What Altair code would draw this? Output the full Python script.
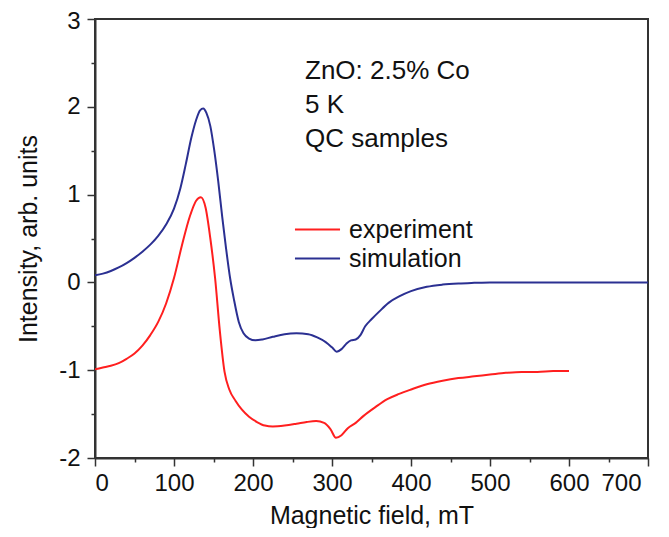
import altair as alt
import pandas as pd

# experiment (red)
exp_x = [0, 10, 20, 30, 40, 50, 60, 70, 80, 90, 100, 110, 120, 128, 134, 140, 146, 152, 158, 164,
         170, 178, 186, 195, 205, 215, 225, 240, 255, 268, 280, 290, 298, 305, 312, 320, 330, 340,
         355, 370, 385, 400, 420, 440, 460, 480, 500, 520, 540, 560, 580, 600]
exp_y = [-0.99, -0.97, -0.95, -0.92, -0.87, -0.81, -0.72, -0.6, -0.45, -0.24, 0.05, 0.42, 0.75, 0.93, 0.97,
         0.85, 0.5, 0.05, -0.55, -1.02, -1.22, -1.35, -1.45, -1.53, -1.59, -1.63, -1.64, -1.63, -1.61,
         -1.59, -1.58, -1.6, -1.67, -1.77, -1.74, -1.66, -1.6, -1.52, -1.42, -1.33, -1.27, -1.22, -1.16,
         -1.12, -1.09, -1.07, -1.05, -1.03, -1.02, -1.02, -1.01, -1.01]

# simulation (blue)
sim_x = [0, 10, 20, 30, 40, 50, 60, 70, 80, 90, 100, 108, 115, 122, 128, 133, 137, 141, 146, 151, 156,
         161, 166, 171, 176, 182, 188, 195, 203, 212, 225, 240, 255, 270, 282, 292, 300, 306, 312, 318,
         324, 330, 336, 342, 350, 360, 372, 385, 400, 420, 440, 460, 480, 500, 550, 600, 650, 700]
sim_y = [0.08, 0.1, 0.13, 0.17, 0.22, 0.28, 0.35, 0.43, 0.53, 0.66, 0.84, 1.07, 1.35, 1.65, 1.85, 1.96,
         1.98, 1.93, 1.78, 1.5, 1.15, 0.75, 0.38, 0.05, -0.2, -0.45, -0.58, -0.64, -0.66, -0.65, -0.62,
         -0.59, -0.58, -0.59, -0.63, -0.68, -0.74, -0.79, -0.76, -0.7, -0.66, -0.65, -0.6, -0.5, -0.42,
         -0.33, -0.23, -0.16, -0.1, -0.05, -0.025, -0.012, -0.005, 0.0, 0.0, 0.0, 0.0, 0.0]

series_names = ["experiment", "simulation"]
series_colors = ["#ff1f1f", "#2b3092"]
annotation = ["ZnO: 2.5% Co", "5 K", "QC samples"]

x_ticks = list(range(0, 701, 50))
y_ticks = [v / 2 for v in range(-4, 7)]

df = pd.concat([
    pd.DataFrame({"x": exp_x, "y": exp_y, "series": series_names[0], "order": range(len(exp_x))}),
    pd.DataFrame({"x": sim_x, "y": sim_y, "series": series_names[1], "order": range(len(sim_x))}),
])

FONT = "Liberation Sans"

lines = alt.Chart(df).mark_line(strokeWidth=2, clip=True, interpolate="monotone").encode(
    x=alt.X("x:Q", scale=alt.Scale(domain=[0, 700], nice=False, zero=False),
            axis=alt.Axis(title="Magnetic field, mT", values=x_ticks,
                          labelExpr="datum.value % 100 === 0 ? '' + datum.value : ''",
                          tickSize={"condition": {"test": "datum.value % 100 === 0", "value": 8}, "value": 4},
                          labelOffset={"condition": {"test": "datum.value === 700", "value": -7}, "value": 0},
                          labelPadding=5, grid=False,
                          titleX=276.5, titleY=57, titleBaseline="middle", titleAlign="center")),
    y=alt.Y("y:Q", scale=alt.Scale(domain=[-2, 3], nice=False, zero=False),
            axis=alt.Axis(title="Intensity, arb. units", values=y_ticks,
                          labelExpr="datum.value % 1 === 0 ? '' + datum.value : ''",
                          tickSize={"condition": {"test": "datum.value % 1 === 0", "value": 8}, "value": 4},
                          labelOffset={"condition": {"test": "datum.value === 3", "value": 2}, "value": 0},
                          labelPadding=7, grid=False,
                          titleX=-67, titleY=219.5, titleAngle=-90, titleBaseline="middle",
                          titleAlign="center")),
    color=alt.Color("series:N", scale=alt.Scale(domain=series_names, range=series_colors),
                    legend=alt.Legend(title=None, orient="none", legendX=210, legendY=198,
                                      symbolType="M-4,0H4", symbolSize=127, symbolStrokeWidth=2,
                                      labelFontSize=25, labelFont=FONT, labelColor="#111",
                                      labelOffset=19, rowPadding=3, padding=0)),
    order="order:Q",
)

text = alt.Chart(pd.DataFrame({"t": [annotation]})).mark_text(
    align="left", baseline="alphabetic", fontSize=26, font=FONT, color="#111", lineHeight=34
).encode(text="t", x=alt.value(210), y=alt.value(60))

chart = alt.layer(lines, text).properties(
    width=553, height=439,
    autosize=alt.AutoSizeParams(type="none"),
    padding={"left": 87, "top": 11, "right": 13, "bottom": 70},
).configure_view(stroke="#333", strokeWidth=2).configure_axis(
    domainColor="#333", domainWidth=2, tickColor="#333", tickWidth=1.5,
    labelFont=FONT, labelFontSize=24, labelColor="#111",
    titleFont=FONT, titleFontSize=25, titleFontWeight="normal", titleColor="#111",
)

chart.save("out.html", embed_options={"renderer": "svg", "actions": False})
